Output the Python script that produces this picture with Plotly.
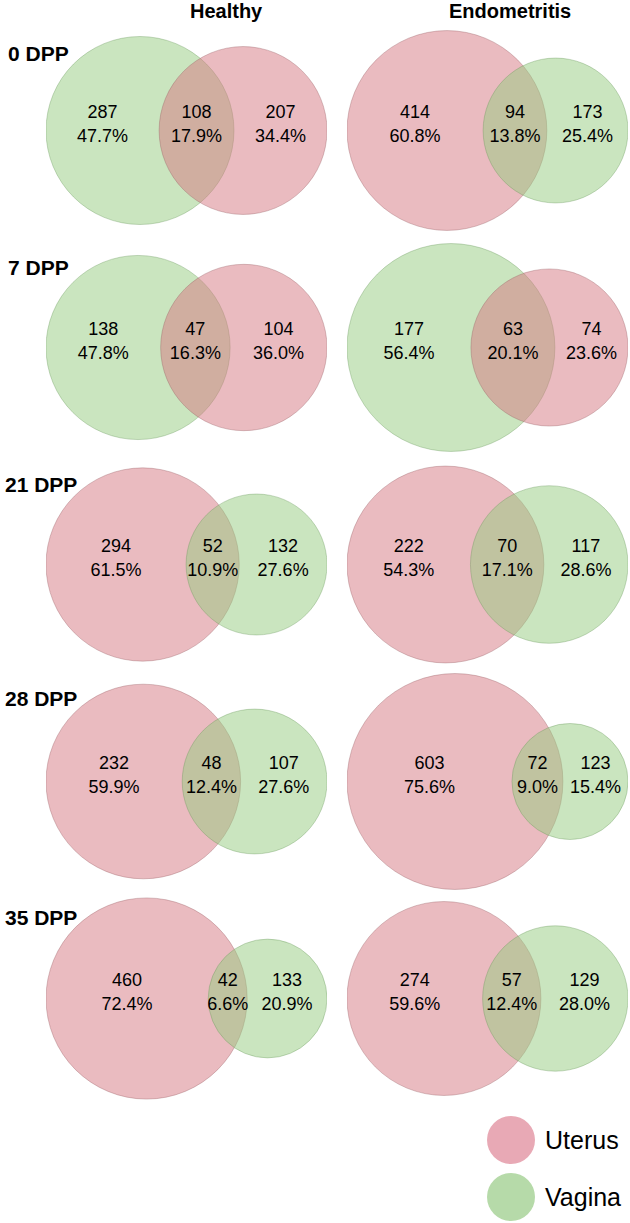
import numpy as np
import plotly.graph_objects as go

# counts
days = ["0 DPP", "7 DPP", "21 DPP", "28 DPP", "35 DPP"]
groups = ["Healthy", "Endometritis"]

healthy_uterus_only = [207, 104, 294, 232, 460]
healthy_vagina_only = [287, 138, 132, 107, 133]
healthy_shared = [108, 47, 52, 48, 42]

endo_uterus_only = [414, 74, 222, 603, 274]
endo_vagina_only = [173, 177, 117, 123, 129]
endo_shared = [94, 63, 70, 72, 57]

W, H = 630, 1223
FONT = "Liberation Sans, Arial, sans-serif"

UTERUS_FILL = "rgba(214,120,130,0.5)"
VAGINA_FILL = "rgba(150,204,128,0.5)"
UTERUS_LINE = "rgba(150,90,95,0.35)"
VAGINA_LINE = "rgba(100,150,85,0.35)"

# panel geometry (pixels)
panel_left = [46, 347]
panel_width = 281
row_centers = [130.5, 347.5, 564.5, 781.5, 998.5]
band = 217


def px(x):
    return x / W


def py(y):
    return 1 - y / H


def lens_area(r1, r2, d):
    if d >= r1 + r2:
        return 0.0
    if d <= abs(r1 - r2):
        return np.pi * min(r1, r2) ** 2
    a1 = r1 ** 2 * np.arccos((d ** 2 + r1 ** 2 - r2 ** 2) / (2 * d * r1))
    a2 = r2 ** 2 * np.arccos((d ** 2 + r2 ** 2 - r1 ** 2) / (2 * d * r2))
    k = 0.5 * np.sqrt((-d + r1 + r2) * (d + r1 - r2) * (d - r1 + r2) * (d + r1 + r2))
    return a1 + a2 - k


def solve_distance(r1, r2, target):
    lo, hi = abs(r1 - r2), r1 + r2
    for _ in range(100):
        mid = (lo + hi) / 2
        if lens_area(r1, r2, mid) > target:
            lo = mid
        else:
            hi = mid
    return (lo + hi) / 2


fig = go.Figure()
layout_axes = {}

data = [
    (healthy_uterus_only, healthy_vagina_only, healthy_shared),
    (endo_uterus_only, endo_vagina_only, endo_shared),
]

for i, day in enumerate(days):
    for j in range(2):
        u_only, v_only, shared = data[j][0][i], data[j][1][i], data[j][2][i]
        total = u_only + v_only + shared
        r_u = np.sqrt((u_only + shared) / np.pi)
        r_v = np.sqrt((v_only + shared) / np.pi)

        # bigger set goes on the left, smaller one drawn on top
        if r_u >= r_v:
            left = (r_u, UTERUS_FILL, UTERUS_LINE, u_only)
            right = (r_v, VAGINA_FILL, VAGINA_LINE, v_only)
        else:
            left = (r_v, VAGINA_FILL, VAGINA_LINE, v_only)
            right = (r_u, UTERUS_FILL, UTERUS_LINE, u_only)
        r_l, r_r = left[0], right[0]
        d = solve_distance(r_l, r_r, shared)

        s = panel_width / (r_l + d + r_r)
        k = i * 2 + j + 1
        xa = "x" if k == 1 else f"x{k}"
        ya = "y" if k == 1 else f"y{k}"
        yc = row_centers[i]
        layout_axes["xaxis" if k == 1 else f"xaxis{k}"] = dict(
            domain=[px(panel_left[j]), px(panel_left[j] + panel_width)],
            range=[-r_l, d + r_r], visible=False, fixedrange=True, anchor=ya,
        )
        layout_axes["yaxis" if k == 1 else f"yaxis{k}"] = dict(
            domain=[py(yc + band / 2), py(yc - band / 2)],
            range=[-(band / 2) / s, (band / 2) / s], visible=False, fixedrange=True,
            anchor=xa,
        )

        for cx, (r, fill, line, _) in [(0.0, left), (d, right)]:
            fig.add_shape(
                type="circle", xref=xa, yref=ya,
                x0=cx - r, x1=cx + r, y0=-r, y1=r,
                fillcolor=fill, line=dict(color=line, width=1), layer="below",
            )

        xs = [(-r_l + d - r_r) / 2, (d - r_r + r_l) / 2, (r_l + d + r_r) / 2]
        counts = [left[3], shared, right[3]]
        labels = [f"{c}<br>{100 * c / total:.1f}%" for c in counts]
        fig.add_trace(go.Scatter(
            x=xs, y=[5 / s] * 3, xaxis=xa, yaxis=ya,
            mode="text", text=labels, textposition="middle center",
            textfont=dict(size=18, color="black", family=FONT),
            showlegend=False, hoverinfo="skip",
        ))

annotations = []
# column headers
for name, xc in zip(groups, [226, 510]):
    annotations.append(dict(
        text=f"<b>{name}</b>", x=px(xc), y=py(11), xref="paper", yref="paper",
        xanchor="center", yanchor="middle", showarrow=False,
        font=dict(size=20, color="black", family=FONT),
    ))
# row labels
for day, xl, yl in zip(days, [6, 6, 3, 3, 3], [53, 267, 484, 699, 917]):
    annotations.append(dict(
        text=f"<b>{day}</b>", x=px(xl), y=py(yl), xref="paper", yref="paper",
        xanchor="left", yanchor="middle", showarrow=False,
        font=dict(size=21, color="black", family=FONT),
    ))

# legend
legend_items = [("Uterus", "#e8a9b5", 1140), ("Vagina", "#b6daa9", 1197)]
for name, color, yl in legend_items:
    fig.add_shape(
        type="circle", xref="paper", yref="paper",
        xsizemode="pixel", ysizemode="pixel",
        xanchor=px(511), yanchor=py(yl),
        x0=-24, x1=24, y0=-24, y1=24,
        fillcolor=color, line=dict(width=0),
    )
    annotations.append(dict(
        text=name, x=px(543), y=py(yl), xref="paper", yref="paper",
        xanchor="left", yanchor="middle", showarrow=False,
        font=dict(size=25, color="black", family=FONT),
    ))

fig.update_layout(
    width=W, height=H,
    margin=dict(l=0, r=0, t=0, b=0),
    paper_bgcolor="white", plot_bgcolor="white",
    showlegend=False,
    annotations=annotations,
    **layout_axes,
)

# drop the default 8px body margin so the figure fills the window
fig.write_html(
    "out.html",
    config={"displayModeBar": False},
    post_script="document.body.style.margin='0';",
)
